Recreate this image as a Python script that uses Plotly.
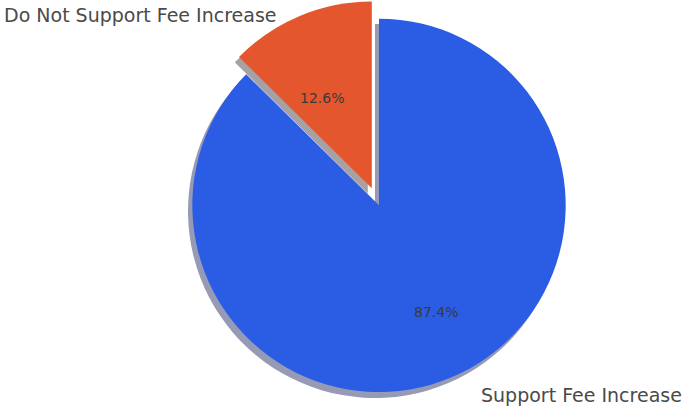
import math
import plotly.graph_objects as go

# ---- data ----
labels = ["Do Not Support Fee Increase", "Support Fee Increase"]
values = [12.6, 87.4]
pct_text = ["12.6%", "87.4%"]

# ---- style ----
colors = ["#E4572E", "#2B5CE4"]
shadow_colors = ["rgba(120,110,115,0.65)", "rgba(95,100,140,0.65)"]
pulls = [0.1, 0.0]

W, H = 684, 417
CX, CY = 379, 205      # pie centre (px)
R = 187                # pie radius (px)
SH_DX, SH_DY = -4, 6   # shadow offset (px)
LAB_FX, LAB_FY = 259, 206
PCT_FX, PCT_FY = 149, 116

total = sum(values)
# first slice should sit just counterclockwise (left) of 12 o'clock
rotation = -360 * values[0] / total


def domain(cx, cy):
    half = R * (1 + max(pulls))
    return dict(x=[(cx - half) / W, (cx + half) / W],
                y=[max(0, 1 - (cy + half) / H), min(1, 1 - (cy - half) / H)])


common = dict(labels=labels, values=values, sort=False, direction="counterclockwise",
              rotation=rotation, pull=pulls, textinfo="none", showlegend=False)

fig = go.Figure()
# shadow
fig.add_trace(go.Pie(
    **common, hoverinfo="skip",
    marker=dict(colors=shadow_colors, line=dict(width=0)),
    domain=domain(CX + SH_DX, CY + SH_DY),
))
# main pie
fig.add_trace(go.Pie(
    **common,
    marker=dict(colors=colors, line=dict(width=0)),
    domain=domain(CX, CY),
))

# labels placed at slice mid-angles (slices run counterclockwise from 12 o'clock)
cum = 0.0
annotations = []
for lab, v, pt in zip(labels, values, pct_text):
    mid = math.radians(90 + 360 * (cum + v / 2) / total)
    cum += v
    c, s = math.cos(mid), math.sin(mid)
    lx = CX + LAB_FX * c
    ly = CY - LAB_FY * s
    annotations.append(dict(
        x=lx / W, y=1 - ly / H, xref="paper", yref="paper", text=lab,
        showarrow=False, xanchor="right" if c < 0 else "left", yanchor="middle",
        font=dict(family="DejaVu Sans", size=19, color="#4a4a4a"),
    ))
    px = CX + PCT_FX * c
    py = CY - PCT_FY * s
    annotations.append(dict(
        x=px / W, y=1 - py / H, xref="paper", yref="paper", text=pt,
        showarrow=False, xanchor="center", yanchor="middle",
        font=dict(family="DejaVu Sans", size=14, color="#3a3a3a"),
    ))

fig.update_layout(
    width=W, height=H, margin=dict(l=0, r=0, t=0, b=0),
    paper_bgcolor="white", plot_bgcolor="white",
    annotations=annotations,
)

fig.write_html("out.html")
